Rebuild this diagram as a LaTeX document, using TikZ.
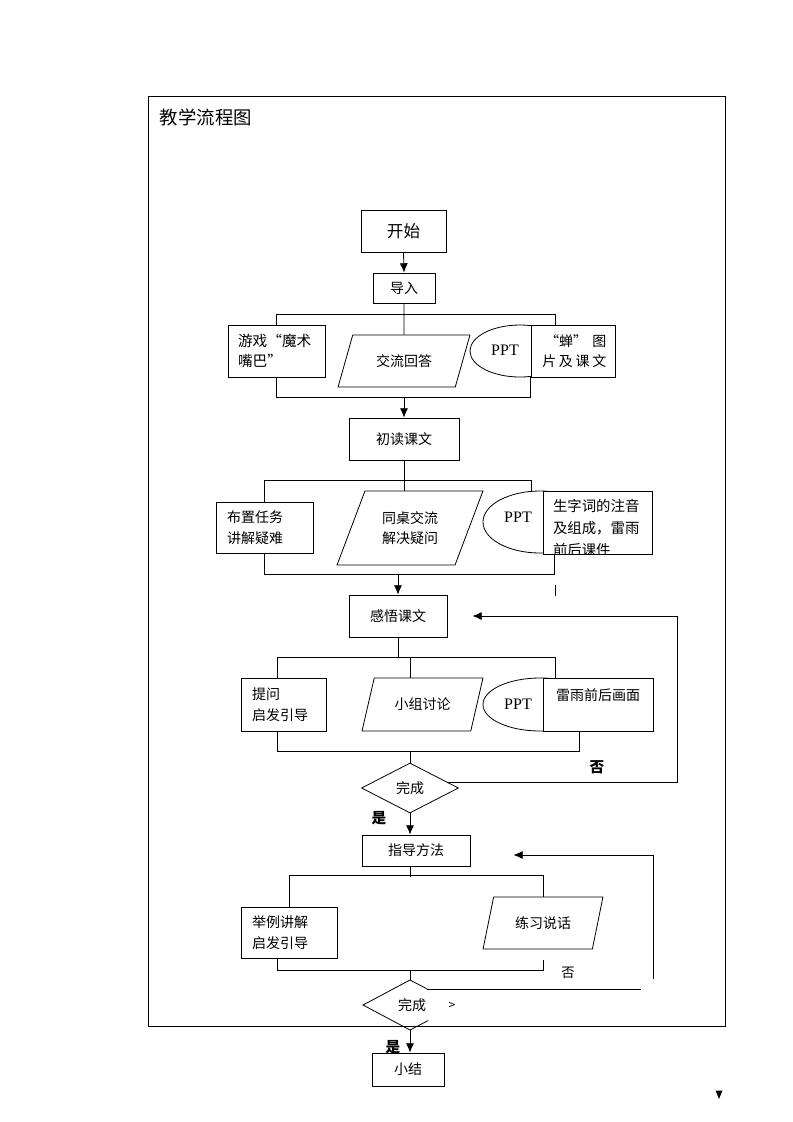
\documentclass[tikz,border=0pt]{standalone}
\usepackage{fontspec}
\setmainfont{Noto Sans CJK SC}
\newfontfamily\latinfont{Liberation Serif}
\usetikzlibrary{shapes,arrows.meta,calc}
\tikzset{
  box/.style={draw, fill=white, inner sep=0pt, font=\fontsize{10.5}{15.5}\selectfont},
  notebox/.style={box, align=left, inner xsep=8.25pt},
  iobox/.style={draw, fill=white, trapezium, trapezium stretches=true, inner sep=0pt,
    font=\fontsize{10.5}{15.5}\selectfont, align=center},
  pptshape/.style={draw, fill=white, ellipse, inner sep=0pt},
  ppttext/.style={font=\latinfont\fontsize{12}{14}\selectfont},
  test/.style={diamond, inner sep=0pt, font=\fontsize{10.5}{12}\selectfont},
  arr/.style={-{Latex[length=7pt,width=6pt]}},
  yesno/.style={font=\fontsize{11}{13}\selectfont\bfseries}
}

\begin{document}
\begin{tikzpicture}[x=0.75pt, y=-0.75pt, line width=0.6pt]
  \useasboundingbox (0,0) rectangle (793,1122);
  \draw (148,96) rectangle (725,1026);
  \node[anchor=west, font=\fontsize{13.8}{15}\selectfont] (title) at (155,117) {教学流程图};

  % top part
  \node[box, minimum width=63.75pt, minimum height=31.5pt, font=\fontsize{12.5}{14}\selectfont] (start) at (403.5,231) {开始};
  \node[box, minimum width=46.5pt, minimum height=22.5pt] (intro) at (404,288) {导入};
  \node[notebox, inner xsep=7.5pt, text width=57.75pt, minimum height=39pt, font=\fontsize{11}{15}\selectfont] (game) at (276.5,351) {游戏“魔术\\嘴巴”};
  \node[iobox, trapezium left angle=58.4, trapezium right angle=121.6, minimum width=99pt, minimum height=39pt] (para1) at (404,361) {交流回答};
  \node[pptshape, minimum width=75pt, minimum height=39pt] (ppt1) at (520,351) {};
  \node[ppttext] (ppt1text) at (505,350) {PPT};
  \node[box, align=right, text width=50pt, minimum width=63pt, minimum height=39pt] (chan) at (573,351)
    {“蝉”\hspace{4pt}图\\片\hspace{2pt}及\hspace{2pt}课\hspace{2pt}文};

  % first reading
  \node[box, minimum width=82.5pt, minimum height=31.5pt] (read) at (404,439) {初读课文};
  \node[notebox, text width=56.25pt, minimum height=38.25pt] (task) at (264.5,527.5) {布置任务\\讲解疑难};
  \node[iobox, trapezium left angle=62.8, trapezium right angle=117.2, minimum width=109.5pt, minimum height=55.5pt] (para2) at (410,528) {同桌交流\\解决疑问};
  \node[pptshape, minimum width=85.5pt, minimum height=46.5pt] (ppt2) at (540,522) {};
  \node[ppttext] (ppt2text) at (518,517) {PPT};
  \node[box, minimum width=81.75pt, minimum height=47.25pt] (words) at (597.5,522.5) {};
  \begin{scope} % text cut by the box
    \clip (words.south west) rectangle (words.north east);
    \node[anchor=north west, align=left, inner sep=0pt, font=\fontsize{10.8}{16.5}\selectfont] (wordstext)
      at ([shift={(10,8)}]words.north west) {生字词的注音\\及组成，雷雨\\前后课件};
  \end{scope}

  % feeling
  \node[box, minimum width=73.5pt, minimum height=31.5pt] (feel) at (398,616) {感悟课文};
  \node[notebox, text width=47.25pt, minimum height=39.75pt] (ask) at (283.5,704.5) {提问\\启发引导};
  \node[iobox, trapezium left angle=61.3, trapezium right angle=118.7, minimum width=90.75pt, minimum height=39.75pt] (para3) at (422.5,704.5) {小组讨论};
  \node[pptshape, minimum width=85.5pt, minimum height=39.75pt] (ppt3) at (540,704.5) {};
  \node[ppttext] (ppt3text) at (518,704) {PPT};
  \node[box, align=center, minimum width=82.5pt, minimum height=39.75pt] (rain) at (598,704.5) {雷雨前后画面\\\mbox{}};
  \node[test, draw, fill=white, minimum width=72.75pt, minimum height=37.5pt] (d1) at (410,788) {完成};

  % method
  \node[box, minimum width=81pt, minimum height=23.25pt] (guide) at (416,850.5) {指导方法};
  \node[notebox, text width=55.5pt, minimum height=38.25pt] (example) at (289,932.5) {举例讲解\\启发引导};
  \node[iobox, trapezium left angle=65.2, trapezium right angle=114.8, minimum width=90pt, minimum height=39pt] (para4) at (543,923) {练习说话};
  \node[test, minimum width=71.25pt, minimum height=37.5pt] (d2) at (412,1005) {完成};
  \node[box, minimum width=54pt, minimum height=24.75pt] (summary) at (408,1069.5) {小结};

  % connectors
  \draw[arr] (start.south) -- (intro.north);
  \draw (intro.south) -- (para1.north);
  \draw (game.north) -- ++(0,-10) -| ([xshift=-13.5pt]chan.north);
  \draw (game.south) -- ++(0,20) -| (chan.south west);
  \draw[arr] (read.north) ++(0,-21) -- (read.north);

  \draw (read.south) -- (read.south |- para2.north);
  \draw (task.north) -- ++(0,-21) -| ([xshift=-6.75pt]ppt2.north);
  \draw (task.south) -- ++(0,21) -| ([xshift=-32pt]words.south);
  \draw (555,585) -- (555,596);
  \draw[arr] (feel.north) ++(0,-21) -- (feel.north);

  \draw (feel.south) -- ++(0,21);
  \draw ([xshift=-4.5pt]ask.north) -- ++(0,-20) -| ([xshift=-32.25pt]rain.north);
  \draw ([xshift=-9.375pt]para3.north) -- ++(0,-20);
  \draw ([xshift=-4.5pt]ask.south) -- ++(0,20) -| ([xshift=-14.25pt]rain.south);
  \draw (d1.north) -- ++(0,-12);
  \draw[arr] (d1.south) -- (d1.south |- guide.north);
  \draw[arr] ($(d1.north)!0.76!(d1.east)$) -| ($(feel.east)+(230,0)$) -- ([xshift=18.75pt]feel.east);
  \node[yesno] (yes1) at (379,818) {是};
  \node[yesno] (no1) at (597,767) {否};

  \coordinate (top2) at (410,980);
  \coordinate (bot2) at (410,1030);
  \coordinate (ne2) at ($(top2)!0.36!(458,1005)$);
  \draw (guide.south -| top2) -- ++(0,11);
  \draw (example.north) -- ++(0,-31) -| (para4.north);
  \draw ([xshift=-9pt]example.south) -- ++(0,12) -| ($(para4.south)+(0,11)$);
  \draw (top2) -- ++(0,-10);
  \draw (ne2) -- (top2) -- (363,1005) -- (bot2) -- ($(bot2)!0.38!(458,1005)$);
  \draw (ne2) -- ++(214,0);
  \draw[arr] (ne2) ++(226,-10) |- ([xshift=32.25pt,yshift=-3.375pt]guide.east);
  \node[font=\fontsize{9}{10}\selectfont] (mark) at (452,1006) {>};
  \node[yesno, font=\fontsize{10}{12}\selectfont] (no2) at (568,973) {否};
  \draw[arr] (bot2) -- (bot2 |- summary.north);
  \node[yesno] (yes2) at (393,1047) {是};
  \fill (715.5,1090.5) -- (722.5,1090.5) -- (719,1099) -- cycle;
\end{tikzpicture}
\end{document}
